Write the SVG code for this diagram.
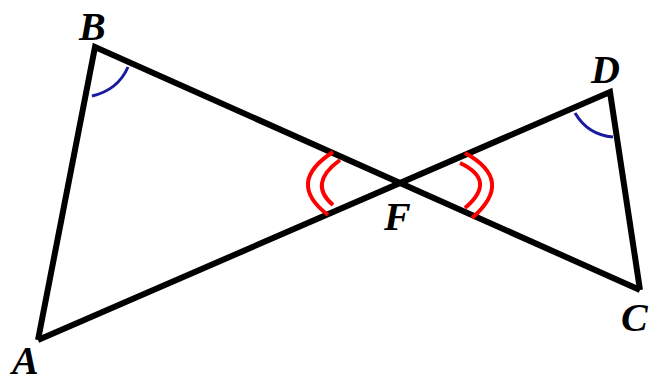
<svg xmlns="http://www.w3.org/2000/svg" width="653" height="384" viewBox="0 0 653 384">
<style>
.edge{stroke:#000;stroke-width:6;fill:none;stroke-linejoin:miter;stroke-linecap:butt}
.ang{stroke:#1a1aa0;stroke-width:3;fill:none}
.mark{stroke:#ff0000;stroke-width:4;fill:none}
.lbl{font-family:"Liberation Serif",serif;font-weight:bold;font-style:italic;font-size:40px;fill:#000}
</style>
<rect width="653" height="384" fill="#fff"/>
<g id="connectors">
<path class="edge" d="M38,340 L95,47 L640,290"/>
<path class="edge" d="M38,340 L610,92 L640,290"/>
</g>
<g id="angle-B"><path class="ang" d="M92,96 Q118,90 128,67"/></g>
<g id="angle-D"><path class="ang" d="M575,113 Q588,135 613,137"/></g>
<g id="angle-F-left">
<path class="mark" d="M333,152 Q285.5,182.5 328,215"/>
<path class="mark" d="M340,160 Q307.5,183.5 333,205"/>
</g>
<g id="angle-F-right">
<path class="mark" d="M465,153 Q515.5,180.5 472,218"/>
<path class="mark" d="M460,163 Q497.5,180.5 465,208"/>
</g>
<g id="B"><text class="lbl" x="79" y="40">B</text></g>
<g id="D"><text class="lbl" x="591" y="83">D</text></g>
<g id="A"><text class="lbl" x="12" y="374">A</text></g>
<g id="C"><text class="lbl" x="621" y="331">C</text></g>
<g id="F"><text class="lbl" x="384" y="230">F</text></g>
</svg>
